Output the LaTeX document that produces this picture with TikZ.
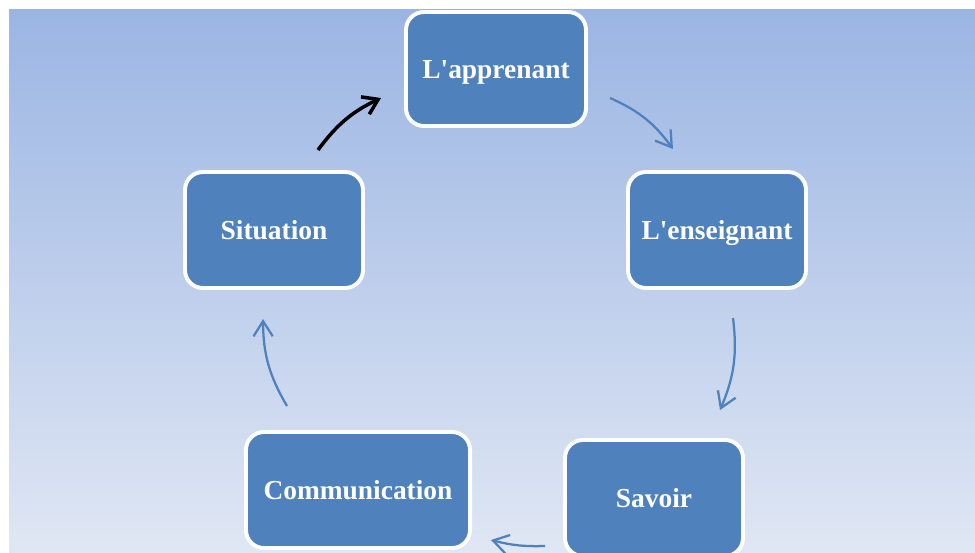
\documentclass[tikz,border=0pt]{standalone}
\usepackage{fontspec}
\setmainfont{Liberation Serif}
\usetikzlibrary{arrows.meta}

\definecolor{boxblue}{HTML}{4F81BD}
\definecolor{bgtop}{HTML}{9BB5E3}
\definecolor{bgbottom}{HTML}{E0E7F4}

\begin{document}
\begin{tikzpicture}[x=0.025cm, y=-0.025cm,
    box/.style={draw=white, line width=2.8pt, fill=boxblue, rounded corners=0.45cm,
        minimum width=4.45cm, minimum height=2.9cm, text=white,
        text height=17pt, text depth=4pt,
        font=\fontsize{19.5}{23}\selectfont\bfseries},
    arr/.style={-{Straight Barb[length=3.8mm, width=4.8mm]}, boxblue, line width=1.6pt},
    blackarr/.style={-{Straight Barb[length=3.6mm, width=4.8mm]}, black, line width=2.5pt}]
    \useasboundingbox (0,0) rectangle (975,553);
    \shade[top color=bgtop, bottom color=bgbottom] (9,9) rectangle (975,553);

    \node[box, minimum width=4.5cm, minimum height=2.85cm] (app) at (496,69) {L\textquotesingle apprenant};
    \node[box] (ens) at (717,230) {L\textquotesingle enseignant};
    \node[box] (sav) at (654,498) {Savoir};
    \node[box, minimum width=5.6cm] (com) at (358,490) {Communication};
    \node[box] (sit) at (274,230) {Situation};

    % arrow ends (the arrows do not touch the boxes)
    \coordinate (app-out) at (610,98);
    \coordinate (ens-in) at (673,149);
    \coordinate (ens-out) at (733,318);
    \coordinate (sav-in) at (720,410);
    \coordinate (sav-out) at (545,546);
    \coordinate (com-in) at (491,540);
    \coordinate (com-out) at (287,406);
    \coordinate (sit-in) at (263,319);
    \coordinate (sit-out) at (318,150);
    \coordinate (app-in) at (381,98);

    \path[arr]
    (app-out) edge[bend left=15] (ens-in)
    (ens-out) edge[bend left=15] (sav-in)
    (sav-out) edge[bend left=8] (com-in)
    (com-out) edge[bend left=15] (sit-in);
    \draw[blackarr] (sit-out) to[bend left=14] (app-in);
\end{tikzpicture}
\end{document}
